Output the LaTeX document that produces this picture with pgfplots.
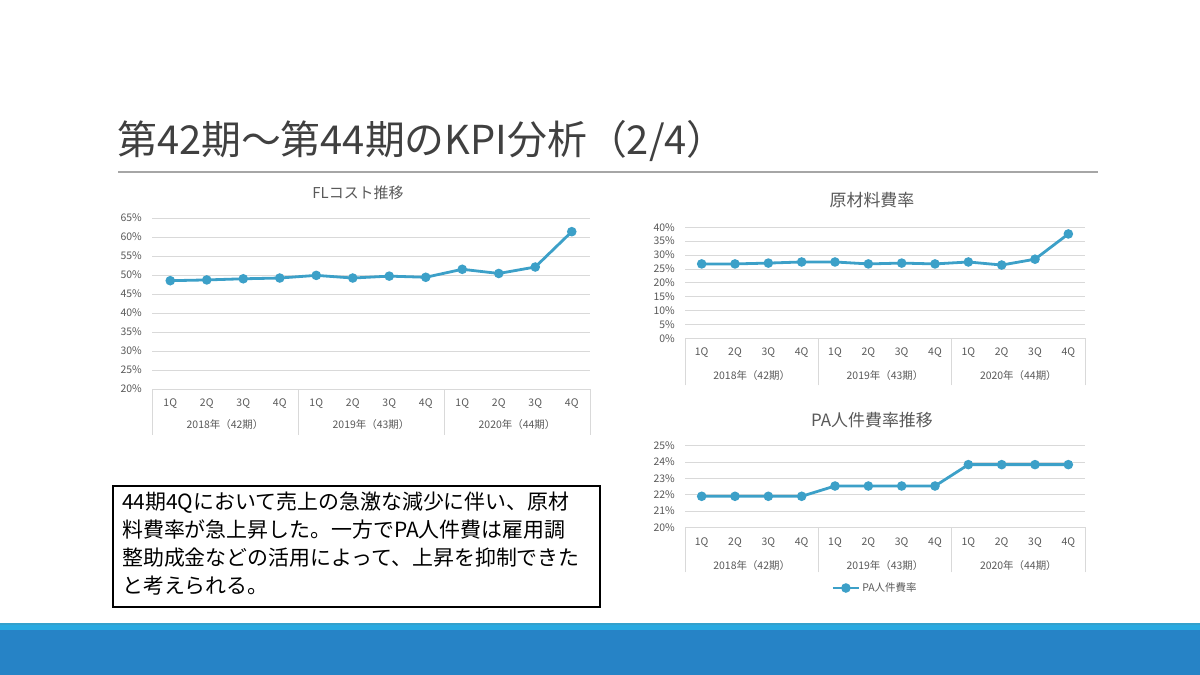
\documentclass[border=0pt]{standalone}
\usepackage{pgfplots}
\pgfplotsset{compat=1.18}
\usepackage{fontspec}
\setmainfont{Noto Sans CJK JP}

\definecolor{linecol}{RGB}{60,160,200}
\definecolor{gridcol}{RGB}{217,217,217}
\definecolor{tickcol}{RGB}{89,89,89}
\definecolor{titlecol}{RGB}{64,64,64}
\definecolor{rulecol}{RGB}{166,166,166}
\definecolor{bandtop}{RGB}{41,169,225}
\definecolor{bandline}{RGB}{51,160,204}
\definecolor{band}{RGB}{38,131,198}

\newcommand{\ticksize}{\fontsize{10.5}{12}\selectfont}

\pgfplotsset{
  kpi/.style={
    scale only axis,
    anchor=south west,
    xmin=-0.5, xmax=11.5,
    axis line style={draw=none},
    ymajorgrids,
    grid style={gridcol, line width=0.8bp},
    tick pos=left,
    major tick length=0pt,
    xtick={0,...,11},
    xticklabels={1Q,2Q,3Q,4Q,1Q,2Q,3Q,4Q,1Q,2Q,3Q,4Q},
    extra x ticks={-0.5,3.5,7.5,11.5},
    extra x tick labels={},
    ticklabel style={font=\ticksize, text=tickcol},
    yticklabel={\pgfmathprintnumber[assume math mode=true]{\tick}\%},
    yticklabel style={anchor=east, inner sep=0pt, xshift=-10bp},
    xticklabel style={anchor=center, inner sep=0pt},
    clip=false,
  },
  kpiline/.style={linecol, line width=2.8bp, mark=*, mark size=3.3bp,
    mark options={solid, fill=linecol, draw=linecol}},
}

\begin{document}
\begin{tikzpicture}[x=1bp, y=1bp]
\path[use as bounding box, fill=white] (0,0) rectangle (1200,675);

% bottom band
\fill[band] (0,0) rectangle (1200,45);
\fill[bandtop] (0,45) rectangle (1200,50);
\fill[bandline] (0,50) rectangle (1200,52);

% slide title
\node[anchor=base west, inner sep=0pt, text=titlecol, font=\fontsize{40}{42}\selectfont]
  at (117,520) {第42期～第44期のKPI分析（2/4）};
\draw[rulecol, line width=1.5bp] (118,503) -- (1098,503);

% comment box
\draw[black, line width=1.5bp] (113,189) rectangle (600,68);
\begin{scope}[every node/.style={anchor=base west, inner sep=0pt, font=\fontsize{21}{28}\selectfont}]
\node at (122,165.3) {44期4Qにおいて売上の急激な減少に伴い、原材};
\node at (122,137) {料費率が急上昇した。一方でPA人件費は雇用調};
\node at (122,109) {整助成金などの活用によって、上昇を抑制できた};
\node at (122,81) {と考えられる。};
\end{scope}

% chart titles
\node[anchor=base, inner sep=0pt, text=tickcol, font=\fontsize{15}{18}\selectfont]
  at (358,476.4) {FLコスト推移};
\node[anchor=base, inner sep=0pt, text=tickcol, font=\fontsize{17}{20}\selectfont]
  at (872,468.5) {原材料費率};
\node[anchor=base, inner sep=0pt, text=tickcol, font=\fontsize{17}{20}\selectfont]
  at (872,248.5) {PA人件費率推移};

% FL cost
\begin{axis}[kpi,
  at={(152bp,286bp)}, width=438bp, height=171bp,
  ymin=20, ymax=65, ytick={20,25,...,65},
  xticklabel style={yshift=-15bp},
  extra x tick style={major tick length=46bp, tick align=outside,
    tick style={gridcol, line width=0.8bp}},
]
\addplot[kpiline] coordinates {
  (0,48.5) (1,48.7) (2,49.0) (3,49.2) (4,49.9) (5,49.2)
  (6,49.7) (7,49.4) (8,51.5) (9,50.4) (10,52.1) (11,61.4)
};
\node[font=\ticksize, text=tickcol, yshift=-36bp] at (axis cs:1.5,20) {2018年（42期）};
\node[font=\ticksize, text=tickcol, yshift=-36bp] at (axis cs:5.5,20) {2019年（43期）};
\node[font=\ticksize, text=tickcol, yshift=-36bp] at (axis cs:9.5,20) {2020年（44期）};
\end{axis}

% raw material ratio
\begin{axis}[kpi,
  at={(685bp,336.7bp)}, width=400bp, height=111bp,
  ymin=0, ymax=40, ytick={0,5,...,40},
  xticklabel style={yshift=-14bp},
  extra x tick style={major tick length=47bp, tick align=outside,
    tick style={gridcol, line width=0.8bp}},
]
\addplot[kpiline] coordinates {
  (0,26.8) (1,26.8) (2,27.1) (3,27.5) (4,27.5) (5,26.8)
  (6,27.1) (7,26.8) (8,27.5) (9,26.4) (10,28.5) (11,37.6)
};
\node[font=\ticksize, text=tickcol, yshift=-37bp] at (axis cs:1.5,0) {2018年（42期）};
\node[font=\ticksize, text=tickcol, yshift=-37bp] at (axis cs:5.5,0) {2019年（43期）};
\node[font=\ticksize, text=tickcol, yshift=-37bp] at (axis cs:9.5,0) {2020年（44期）};
\end{axis}

% PA labour ratio
\begin{axis}[kpi,
  at={(685bp,147.7bp)}, width=400bp, height=81.6bp,
  ymin=20, ymax=25, ytick={20,21,...,25},
  xticklabel style={yshift=-15bp},
  extra x tick style={major tick length=45bp, tick align=outside,
    tick style={gridcol, line width=0.8bp}},
  legend style={at={(0.475,-0.744)}, anchor=center, draw=none, fill=none,
    font=\fontsize{10.5}{12}\selectfont, text=tickcol, inner sep=0pt},
  legend image code/.code={\draw[mark repeat=2, mark phase=2, #1]
    plot coordinates {(0bp,0bp) (13bp,0bp) (26bp,0bp)};},
]
\addplot[kpiline] coordinates {
  (0,21.9) (1,21.9) (2,21.9) (3,21.9) (4,22.53) (5,22.53)
  (6,22.53) (7,22.53) (8,23.84) (9,23.84) (10,23.84) (11,23.84)
};
\addlegendentry{PA人件費率}
\node[font=\ticksize, text=tickcol, yshift=-38bp] at (axis cs:1.5,20) {2018年（42期）};
\node[font=\ticksize, text=tickcol, yshift=-38bp] at (axis cs:5.5,20) {2019年（43期）};
\node[font=\ticksize, text=tickcol, yshift=-38bp] at (axis cs:9.5,20) {2020年（44期）};
\end{axis}
\end{tikzpicture}
\end{document}
